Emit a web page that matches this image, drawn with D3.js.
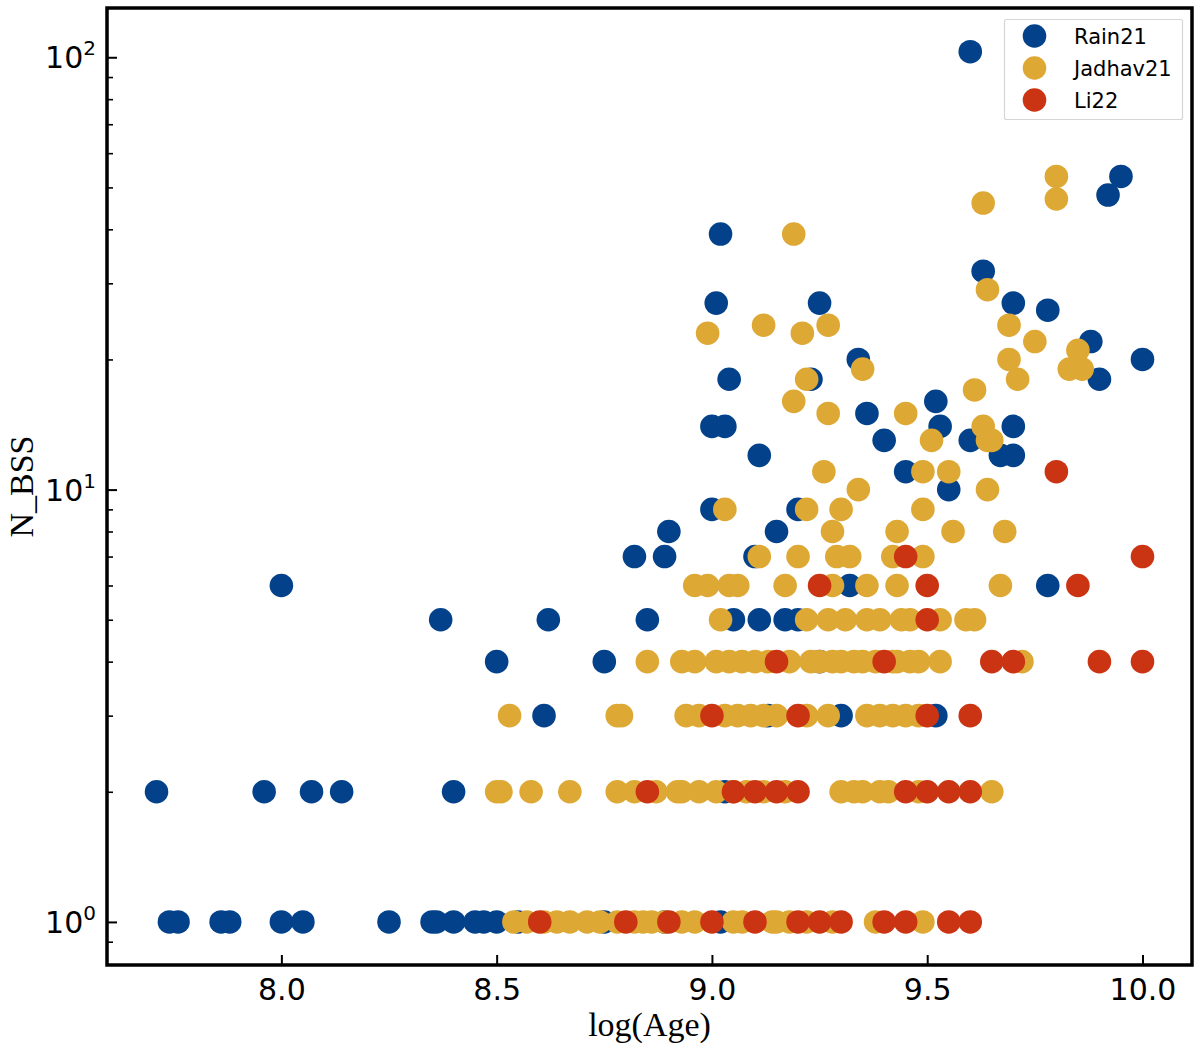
<!DOCTYPE html>
<html>
<head>
<meta charset="utf-8">
<script src="https://cdn.jsdelivr.net/npm/d3@7"></script>
<style>
  html, body { margin: 0; padding: 0; background: #fff; }
  svg { display: block; }
</style>
</head>
<body>
<div id="chart"></div>
<script>
// [log(Age), N_BSS]
const rain21 = [
  [7.74, 1], [7.76, 1], [7.86, 1], [7.88, 1], [8.00, 1], [8.05, 1], [8.25, 1], [8.35, 1],
  [8.36, 1], [8.40, 1], [8.45, 1], [8.47, 1], [8.50, 1], [8.55, 1], [8.75, 1], [8.89, 1],
  [9.02, 1],
  [7.71, 2], [7.96, 2], [8.07, 2], [8.14, 2], [8.40, 2], [9.03, 2],
  [8.61, 3], [9.13, 3], [9.30, 3], [9.52, 3],
  [8.50, 4], [8.75, 4], [9.25, 4],
  [8.37, 5], [8.62, 5], [8.85, 5], [9.05, 5], [9.11, 5], [9.17, 5], [9.20, 5],
  [8.00, 6], [9.32, 6], [9.78, 6],
  [8.82, 7], [8.89, 7], [9.10, 7],
  [8.90, 8], [9.15, 8],
  [9.00, 9], [9.20, 9],
  [9.55, 10],
  [9.45, 11],
  [9.11, 12], [9.67, 12], [9.70, 12],
  [9.40, 13], [9.60, 13],
  [9.00, 14], [9.03, 14], [9.53, 14], [9.70, 14],
  [9.36, 15],
  [9.52, 16],
  [9.04, 18], [9.23, 18], [9.90, 18],
  [9.34, 20], [10.00, 20],
  [9.88, 22],
  [9.78, 26],
  [9.01, 27], [9.25, 27], [9.70, 27],
  [9.63, 32],
  [9.02, 39],
  [9.92, 48],
  [9.95, 53],
  [9.60, 103],
];

const jadhav21 = [
  [8.54, 1], [8.57, 1], [8.61, 1], [8.64, 1], [8.67, 1], [8.71, 1], [8.74, 1], [8.78, 1],
  [8.82, 1], [8.84, 1], [8.86, 1], [8.89, 1], [8.93, 1], [8.96, 1], [9.05, 1], [9.07, 1],
  [9.14, 1], [9.15, 1], [9.18, 1], [9.22, 1], [9.28, 1], [9.38, 1], [9.49, 1],
  [8.50, 2], [8.51, 2], [8.58, 2], [8.67, 2], [8.78, 2], [8.82, 2], [8.87, 2], [8.92, 2],
  [8.93, 2], [8.97, 2], [9.01, 2], [9.05, 2], [9.08, 2], [9.12, 2], [9.17, 2], [9.30, 2],
  [9.33, 2], [9.35, 2], [9.39, 2], [9.41, 2], [9.48, 2], [9.65, 2],
  [8.53, 3], [8.78, 3], [8.79, 3], [8.94, 3], [8.97, 3], [9.03, 3], [9.06, 3], [9.09, 3],
  [9.12, 3], [9.15, 3], [9.22, 3], [9.27, 3], [9.36, 3], [9.39, 3], [9.42, 3], [9.45, 3],
  [9.48, 3],
  [8.85, 4], [8.93, 4], [8.96, 4], [9.01, 4], [9.04, 4], [9.07, 4], [9.10, 4], [9.13, 4],
  [9.18, 4], [9.23, 4], [9.25, 4], [9.28, 4], [9.30, 4], [9.33, 4], [9.35, 4], [9.38, 4],
  [9.42, 4], [9.43, 4], [9.46, 4], [9.48, 4], [9.53, 4], [9.72, 4],
  [9.02, 5], [9.22, 5], [9.27, 5], [9.31, 5], [9.36, 5], [9.39, 5], [9.44, 5], [9.46, 5],
  [9.53, 5], [9.59, 5], [9.61, 5],
  [8.96, 6], [8.99, 6], [9.04, 6], [9.06, 6], [9.17, 6], [9.28, 6], [9.36, 6], [9.43, 6],
  [9.67, 6],
  [9.11, 7], [9.20, 7], [9.29, 7], [9.32, 7], [9.42, 7], [9.49, 7],
  [9.28, 8], [9.43, 8], [9.56, 8], [9.68, 8],
  [9.03, 9], [9.22, 9], [9.30, 9], [9.49, 9],
  [9.34, 10], [9.64, 10],
  [9.26, 11], [9.49, 11], [9.55, 11],
  [9.51, 13], [9.64, 13], [9.65, 13],
  [9.63, 14],
  [9.27, 15], [9.45, 15],
  [9.19, 16],
  [9.61, 17],
  [9.22, 18], [9.71, 18],
  [9.35, 19], [9.83, 19], [9.86, 19],
  [9.69, 20],
  [9.85, 21],
  [9.75, 22],
  [8.99, 23], [9.21, 23],
  [9.12, 24], [9.27, 24], [9.69, 24],
  [9.64, 29],
  [9.19, 39],
  [9.63, 46],
  [9.80, 47],
  [9.80, 53],
];

const li22 = [
  [8.60, 1], [8.80, 1], [8.90, 1], [9.00, 1], [9.10, 1], [9.20, 1], [9.25, 1], [9.30, 1],
  [9.40, 1], [9.45, 1], [9.55, 1], [9.60, 1],
  [8.85, 2], [9.05, 2], [9.10, 2], [9.15, 2], [9.20, 2], [9.45, 2], [9.50, 2], [9.55, 2],
  [9.60, 2],
  [9.00, 3], [9.20, 3], [9.50, 3], [9.60, 3],
  [9.15, 4], [9.40, 4], [9.65, 4], [9.70, 4], [9.90, 4], [10.00, 4],
  [9.50, 5],
  [9.25, 6], [9.50, 6], [9.85, 6],
  [9.45, 7], [10.00, 7],
  [9.80, 11],
];

const seriesNames = ["Rain21", "Jadhav21", "Li22"];
const seriesData = [rain21, jadhav21, li22];
const seriesColors = ["#03428b", "#dea835", "#cb3413"];

const xTicks = [8.0, 8.5, 9.0, 9.5, 10.0];
const yMajorTicks = [1, 10, 100];
const yExponents = ["0", "1", "2"];
const yMinorTicks = [0.9, 2, 3, 4, 5, 6, 7, 8, 9, 20, 30, 40, 50, 60, 70, 80, 90];

const width = 1200;
const height = 1049;
const plot = { left: 107, right: 1192, top: 8, bottom: 965 };

const svg = d3.select("#chart")
  .append("svg")
  .attr("width", width)
  .attr("height", height);

const x = d3.scaleLinear()
  .domain([7.595, 10.115])
  .range([plot.left, plot.right]);

const y = d3.scaleLog()
  .domain([0.795, 130])
  .range([plot.bottom, plot.top]);

// points, drawn in series order so later surveys sit on top
const pointsG = svg.append("g");
seriesData.forEach((rows, i) => {
  pointsG.append("g")
    .selectAll("circle")
    .data(rows)
    .join("circle")
    .attr("cx", (d) => x(d[0]))
    .attr("cy", (d) => y(d[1]))
    .attr("r", 11.8)
    .attr("fill", seriesColors[i]);
});

// x axis: inward major ticks
const xAxis = svg.append("g")
  .attr("transform", `translate(0,${plot.bottom})`)
  .call(d3.axisBottom(x).tickValues(xTicks).tickSizeInner(-10).tickSizeOuter(0).tickFormat(d3.format(".1f")));
xAxis.select(".domain").remove();
xAxis.selectAll(".tick line").attr("stroke", "#000").attr("stroke-width", 2);
xAxis.selectAll(".tick text")
  .attr("y", 35)
  .attr("dy", 0)
  .attr("fill", "#000")
  .attr("font-family", "'DejaVu Sans', sans-serif")
  .attr("font-size", 30);

// y axis: log, inward ticks
const yAxis = svg.append("g")
  .attr("transform", `translate(${plot.left},0)`)
  .call(d3.axisLeft(y).tickValues(yMajorTicks).tickSizeInner(-10).tickSizeOuter(0).tickFormat(""));
yAxis.select(".domain").remove();
yAxis.selectAll(".tick line").attr("stroke", "#000").attr("stroke-width", 2);

const yMinor = svg.append("g")
  .attr("transform", `translate(${plot.left},0)`)
  .call(d3.axisLeft(y).tickValues(yMinorTicks).tickSizeInner(-6).tickSizeOuter(0).tickFormat(""));
yMinor.select(".domain").remove();
yMinor.selectAll(".tick line").attr("stroke", "#000").attr("stroke-width", 1.6);

const yLabels = svg.append("g");
yMajorTicks.forEach((v, i) => {
  const t = yLabels.append("text")
    .attr("x", 96)
    .attr("y", y(v) + 11)
    .attr("text-anchor", "end")
    .attr("fill", "#000")
    .attr("font-family", "'DejaVu Sans', sans-serif")
    .attr("font-size", 30);
  t.append("tspan").text("10");
  t.append("tspan")
    .attr("font-size", 20)
    .attr("dy", -13)
    .text(yExponents[i]);
});

// frame
svg.append("rect")
  .attr("x", plot.left)
  .attr("y", plot.top)
  .attr("width", plot.right - plot.left)
  .attr("height", plot.bottom - plot.top)
  .attr("fill", "none")
  .attr("stroke", "#000")
  .attr("stroke-width", 3.5);

// axis titles
svg.append("text")
  .attr("x", (plot.left + plot.right) / 2)
  .attr("y", 1036)
  .attr("text-anchor", "middle")
  .attr("font-family", "'Liberation Serif', 'Times New Roman', serif")
  .attr("font-size", 34)
  .attr("fill", "#000")
  .text("log(Age)");

svg.append("text")
  .attr("transform", `translate(33,${(plot.top + plot.bottom) / 2}) rotate(-90)`)
  .attr("text-anchor", "middle")
  .attr("font-family", "'Liberation Serif', 'Times New Roman', serif")
  .attr("font-size", 34)
  .attr("fill", "#000")
  .text("N_BSS");

// legend
const legend = svg.append("g");
legend.append("rect")
  .attr("x", 1004.5)
  .attr("y", 19.5)
  .attr("width", 178)
  .attr("height", 100)
  .attr("rx", 2)
  .attr("fill", "#fff")
  .attr("fill-opacity", 0.8)
  .attr("stroke", "#d6d6d6")
  .attr("stroke-width", 1.2);

seriesNames.forEach((name, i) => {
  const cy = 36 + i * 32;
  legend.append("circle")
    .attr("cx", 1034.5)
    .attr("cy", cy)
    .attr("r", 11.8)
    .attr("fill", seriesColors[i]);
  legend.append("text")
    .attr("x", 1074)
    .attr("y", cy + 8)
    .attr("font-family", "'DejaVu Sans', sans-serif")
    .attr("font-size", 21)
    .attr("fill", "#000")
    .text(name);
});
</script>
</body>
</html>
